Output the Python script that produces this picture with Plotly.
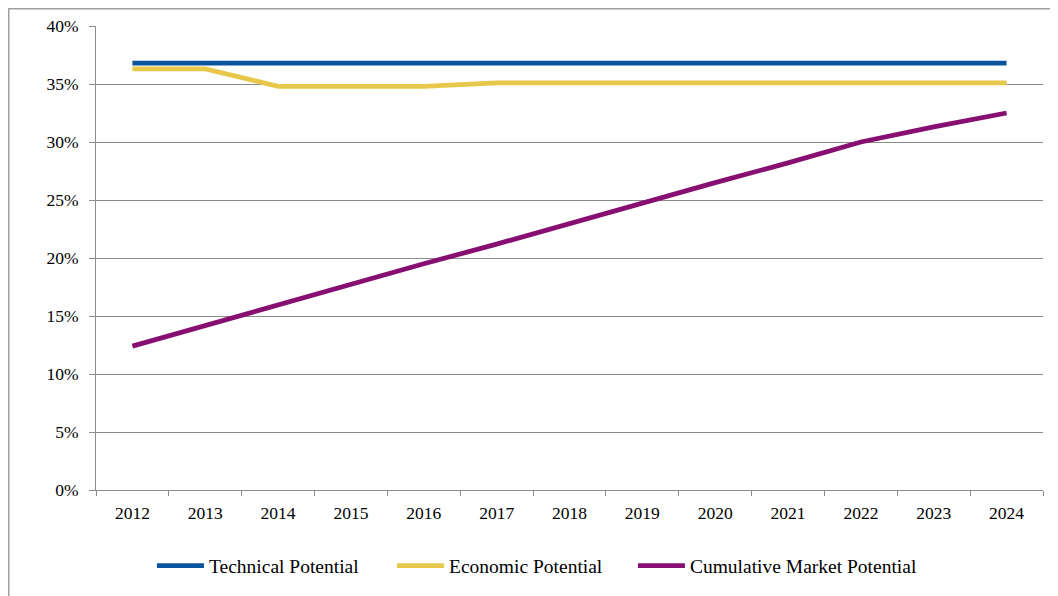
import plotly.graph_objects as go

years = [str(y) for y in range(2012, 2025)]
technical = [0.368] * 13
economic = [0.363, 0.363, 0.348, 0.348, 0.348, 0.351, 0.351, 0.351, 0.351, 0.351, 0.351, 0.351, 0.351]
market = [0.124, 0.142, 0.159, 0.177, 0.195, 0.212, 0.230, 0.247, 0.265, 0.282, 0.300, 0.313, 0.325]

series_names = ["Technical Potential", "Economic Potential", "Cumulative Market Potential"]
series_colors = ["#0B539E", "#E8C84B", "#870F72"]
series_values = [technical, economic, market]
legend_ids = ["legend", "legend2", "legend3"]
legend_x = [0.0591, 0.3126, 0.567]

FONT = "Liberation Serif"
GRID = "#8C8C8C"

fig = go.Figure()
for name, color, vals, lg in zip(series_names, series_colors, series_values, legend_ids):
    fig.add_trace(go.Scatter(
        x=years, y=vals, name=name, mode="lines", legend=lg,
        line=dict(color=color, width=4.8),
    ))

W, H = 1050, 588
L, R, T, B = 88, 15, 18, 106
pw, ph = W - L - R, H - T - B

legend_common = dict(
    orientation="h", xanchor="left", y=-0.1638, yanchor="middle",
    itemwidth=47, font=dict(family=FONT, size=19.5),
    bgcolor="rgba(0,0,0,0)", itemclick=False, itemdoubleclick=False,
)

layout_legends = {lg: dict(x=lx, **legend_common) for lg, lx in zip(legend_ids, legend_x)}

fig.update_layout(
    width=W, height=H,
    margin=dict(l=L, r=R, t=T, b=B, autoexpand=False),
    paper_bgcolor="white", plot_bgcolor="white",
    font=dict(family=FONT, size=17.5, color="#000000"),
    showlegend=True,
    xaxis=dict(
        type="category", range=[-0.5, 12.5], tickson="boundaries", ticks="outside", ticklen=5,
        tickcolor=GRID, linecolor=GRID, linewidth=1, showline=True,
        showgrid=False, zeroline=False, ticklabelstandoff=7,
    ),
    yaxis=dict(
        range=[0, 0.40], dtick=0.05, tickformat=".0%", ticks="outside", ticklen=6,
        tickcolor=GRID, linecolor=GRID, linewidth=1, showline=True,
        showgrid=True, gridcolor=GRID, gridwidth=1, zeroline=False,
        ticklabelstandoff=7,
    ),
    shapes=[dict(
        type="rect", xref="paper", yref="paper",
        x0=(0.75 - L) / pw, x1=(W + 20 - L) / pw,
        y0=-(B + 20) / ph, y1=(ph + T - 0.75) / ph,
        line=dict(color="#A0A0A0", width=1.5), fillcolor="rgba(0,0,0,0)", layer="below",
    )],
    **layout_legends,
)

fig.write_html("out.html")
